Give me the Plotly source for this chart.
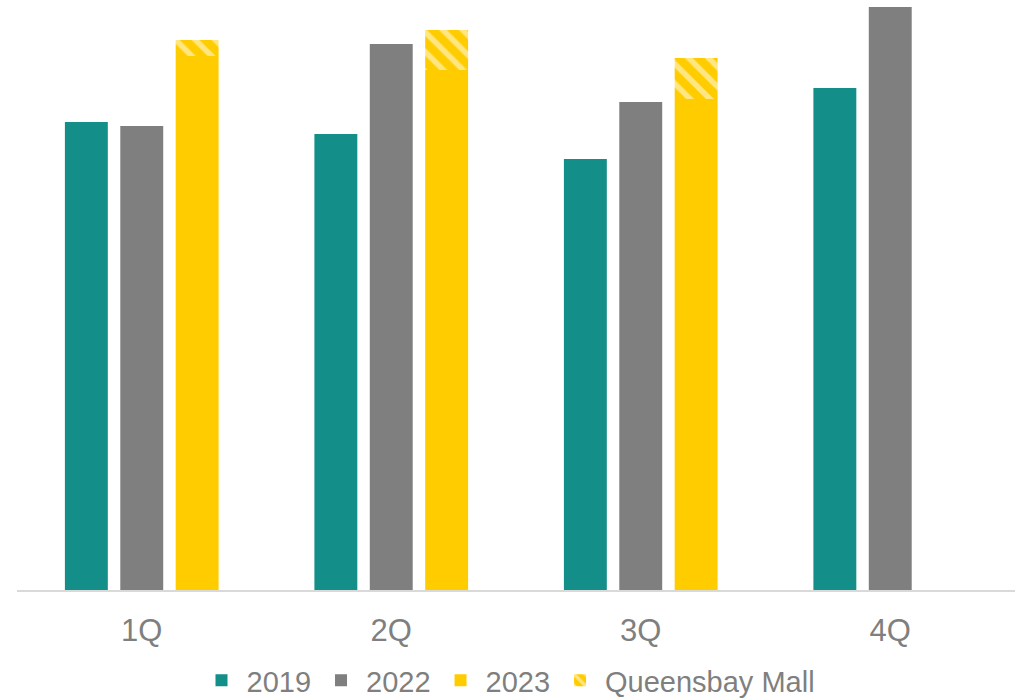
import plotly.graph_objects as go

quarters = ["1Q", "2Q", "3Q", "4Q"]
v2019 = [468, 456, 431, 502]
v2022 = [464, 546, 488, 583]
v2023 = [534, 520, 491, None]
queensbay = [16, 40, 41, None]

base_q = [b if b is not None else 0 for b in v2023]

fig = go.Figure()
fig.add_trace(go.Bar(x=quarters, y=v2019, name="2019", offsetgroup="a",
                     marker=dict(color="#138e88", line=dict(width=0))))
fig.add_trace(go.Bar(x=quarters, y=v2022, name="2022", offsetgroup="b",
                     marker=dict(color="#7f7f7f", line=dict(width=0))))
fig.add_trace(go.Bar(x=quarters, y=v2023, name="2023", offsetgroup="c",
                     marker=dict(color="#ffcc00", line=dict(width=0))))
fig.add_trace(go.Bar(x=quarters, y=queensbay, base=base_q, name="Queensbay Mall", offsetgroup="c",
                     marker=dict(color="#ffcc00", line=dict(width=0),
                                 pattern=dict(shape="\\", fgcolor="white", bgcolor="#ffcc00",
                                              size=14, solidity=0.4))))

fig.update_layout(
    width=1017, height=700,
    margin=dict(l=17, r=2, t=0, b=110, autoexpand=False),
    paper_bgcolor="white", plot_bgcolor="white",
    barmode="group", bargap=0.334, bargroupgap=0.225,
    font=dict(family="Liberation Sans, Arial, sans-serif", color="#7f7f7f", size=31),
    showlegend=True,
    legend=dict(orientation="h", x=0.5, xanchor="center", xref="container",
                y=0.028, yanchor="middle", yref="container",
                font=dict(size=29, color="#7f7f7f"), traceorder="normal",
                itemwidth=40, tracegroupgap=0),
)
fig.update_xaxes(showline=True, linecolor="#d9d9d9", linewidth=2, showgrid=False,
                 ticks="outside", ticklen=12, tickcolor="rgba(0,0,0,0)",
                 tickfont=dict(size=31, color="#7f7f7f"), zeroline=False)
fig.update_yaxes(visible=False, range=[0, 590], showgrid=False, zeroline=False)

fig.write_html("out.html")
